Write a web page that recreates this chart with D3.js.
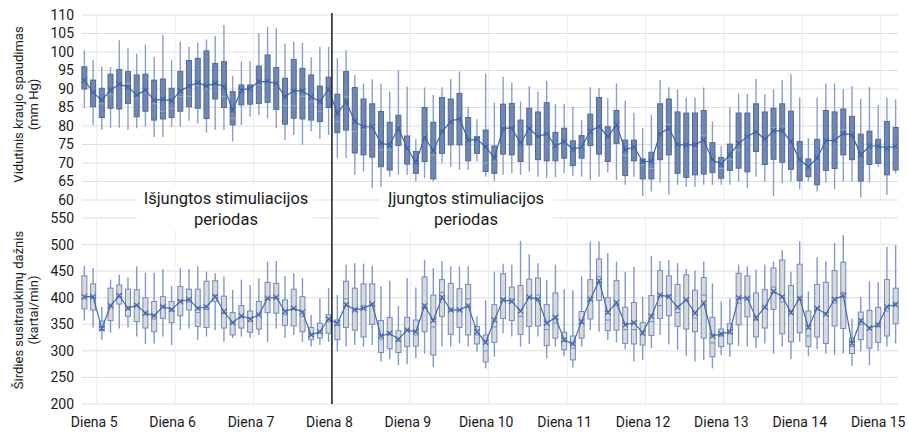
<!DOCTYPE html>
<html>
<head>
<meta charset="utf-8">
<script src="https://cdn.jsdelivr.net/npm/d3@7"></script>
<style>
  body { margin: 0; background: #fff; }
  svg text { font-family: Roboto, "Open Sans", sans-serif; fill: #1a1a1a; }
</style>
</head>
<body>
<div id="chart"></div>
<script>
// day labels on the time axis
const days = [5, 6, 7, 8, 9, 10, 11, 12, 13, 14, 15]
const stimOnDay = 8

// mean arterial pressure (mm Hg), one box per recording slot
const bpMax = [100.4, 97.8, 96, 96, 103.2, 101, 99.5, 102, 98.7, 104.6, 97.8, 102.8, 101.4, 102.5, 103.4, 104.3, 107.3, 93.5, 97.4, 97.6, 105, 106.8, 106.4, 102.3, 102.8, 102.5, 98.6, 101.4, 101.4,
  98.3, 100.5, 93.8, 91.5, 92.6, 91.5, 89.3, 95, 90.6, 76.4, 90.4, 88.4, 90.5, 92.7, 94.7, 85.2, 81.8, 94.2, 86.3, 93.3, 91.7, 86.6, 90.8, 89.3, 92.2, 85.9, 86, 85.2, 81.6, 90.5, 90.3, 87.5, 91.5,
  86.8, 83.6, 79.4, 83, 92.4, 90.5, 89.9, 87.7, 87.7, 90.4, 81.2, 74.6, 85, 88.8, 88.6, 92.7, 88.6, 89.9, 92.4, 94, 87.7, 76.8, 87.7, 91.5, 91.5, 89.9, 90.8, 87.3, 90.5, 85.7, 87.7, 87.2]
const bpQ3 = [96, 92.4, 90.2, 94, 95.3, 94.7, 93.8, 94, 92.4, 92.7, 90.2, 94.7, 97.7, 98.3, 100.3, 96.9, 97.4, 89.3, 91.1, 91.1, 96.2, 99.2, 95.8, 92.9, 98, 95.6, 93.8, 90.8, 93.2,
  88.6, 94.7, 90.4, 87.3, 86, 83.9, 81, 82.9, 77.3, 73.1, 85, 81, 87.7, 87.3, 88.8, 82.3, 77.1, 78.9, 74.6, 85.9, 86.1, 81.6, 84.8, 83.8, 86.3, 78.3, 79.4, 76, 77.4, 83.2, 87.7, 79.8, 84.2,
  76.2, 76.2, 71.1, 72.9, 86, 87.3, 83.8, 83.5, 83.5, 84.2, 75.5, 71.5, 75.1, 83.5, 83.5, 86, 83.8, 84.8, 86, 84, 75.8, 71.1, 76.4, 84.2, 83.8, 84.6, 82.6, 77.8, 78.6, 76.4, 81.2, 79.6]
const bpMedian = [92, 88.5, 86, 88.5, 91, 91.5, 87.5, 89, 86, 84, 84.8, 88, 88, 91, 90, 91, 88, 82, 89.5, 90, 91, 91.5, 91, 85.5, 85.5, 88, 86.5, 84, 89,
  81.2, 88, 78.5, 79, 80, 73.5, 73.5, 79.5, 73.5, 69.5, 77.5, 72, 78, 81.5, 82.5, 76.5, 76.5, 70, 70.5, 80, 79, 75, 79, 76.5, 78.5, 74.5, 75.5, 73.5, 74.5, 78.5, 80.5, 76.5, 80.5,
  72, 74, 69.5, 68.5, 78.5, 80.5, 74.5, 74.5, 74, 77.5, 70.5, 68.5, 71, 73.5, 76.5, 79, 76, 79.5, 80, 75.5, 70.5, 69, 70.5, 75.5, 76.5, 79, 78, 72.5, 74.5, 74.5, 74, 74.5]
const bpQ1 = [90, 85.2, 82.3, 84.8, 84.6, 86.1, 82.5, 84, 81.6, 81.9, 82.3, 84, 85.2, 84.8, 82, 87.3, 85, 80.3, 85.7, 85.9, 86.1, 86.4, 84.5, 80.5, 82.1, 81.9, 81.6, 81.2, 85,
  78.2, 78.9, 72.7, 72.2, 71.6, 69, 68.1, 74.7, 69.7, 67.2, 70.4, 65.7, 72.6, 74.9, 74.9, 70.6, 72.6, 67.7, 67.2, 72.4, 72.2, 70.4, 74.9, 70.9, 70.6, 70.6, 71.3, 69.3, 71.3, 74.7, 72.4, 70.4, 75.3,
  66.6, 70.6, 65.7, 65.7, 70.9, 72.2, 67.2, 66.1, 66.8, 67, 67.4, 65.9, 68, 68.6, 67.6, 73.1, 69.6, 71, 70.2, 68.3, 65.2, 66.3, 64.1, 68, 68.5, 72.2, 70.9, 65.1, 69.6, 69.9, 66.8, 68.1]
const bpMin = [85, 80.3, 79, 79.5, 79.5, 79, 79.4, 79.8, 77, 77, 79.8, 79.8, 81.4, 80.7, 78.2, 79, 79, 75.8, 80.3, 82.5, 83, 82, 79.4, 76.2, 77.6, 74.9, 78.6, 76.5, 77.6,
  71.3, 71.3, 66.8, 67.7, 63.2, 63.6, 66.3, 66.8, 66.8, 65, 65.9, 65, 69.9, 69, 68.1, 68.1, 70.4, 66.3, 65.1, 66.8, 67.2, 66.8, 67.7, 66.3, 65.9, 66.1, 67.2, 66.5, 66.3, 65.4, 66.3, 67.4, 65.4,
  64.1, 66.3, 61.1, 62.3, 64.7, 61.4, 64.1, 63.6, 63.6, 64.1, 64.1, 64.1, 64.1, 65, 63.2, 66.3, 65, 61.1, 64.5, 65, 62.9, 65, 62.3, 64.7, 62.9, 65, 65, 60.6, 64.7, 69, 61.4, 67.2]
const bpMean = [92.4, 89, 87, 89.7, 91.3, 90.5, 88.4, 89.7, 87, 87.2, 86.8, 89.5, 90.8, 91.7, 90.8, 91.5, 90.6, 84.3, 89.7, 90.2, 92, 92, 91.5, 87.9, 89.5, 89.5, 87.9, 86.6, 89.9,
  83.4, 86.6, 81.2, 79.8, 79.8, 75.3, 74.9, 79.4, 74, 70.1, 76.9, 73.3, 78.5, 81.2, 82.1, 76.2, 76.4, 74.4, 71.3, 79.4, 79.4, 75.3, 79.4, 77.1, 78, 74.6, 75.8, 73.7, 74.4, 78.5, 80, 77.1, 80.3,
  73.5, 74.4, 70.4, 70.4, 78, 79.4, 74.9, 74.9, 74.9, 76.2, 70.8, 69.7, 72.2, 75.3, 77.1, 78.5, 76.4, 78.7, 78.7, 75.8, 70.8, 69, 71.3, 76, 76.2, 78, 77.6, 72.2, 74.6, 74.6, 74, 74.6]

// heart rate (beats/min)
const hrMax = [460, 456, 383, 434, 443, 438, 459, 447, 447, 454, 422, 456, 454, 459, 449, 446, 440, 415, 434, 424, 437, 468, 469, 441, 446, 437, 368, 399, 418,
  405, 462, 465, 464, 460, 422, 432, 385, 437, 419, 471, 456, 469, 459, 459, 459, 365, 395, 449, 464, 462, 507, 482, 465, 434, 462, 416, 414, 440, 506, 506, 484, 468,
  449, 458, 402, 479, 469, 471, 465, 454, 451, 468, 427, 393, 399, 462, 459, 453, 462, 468, 490, 449, 506, 412, 476, 468, 503, 518, 361, 402, 431, 429, 496, 499]
const hrQ3 = [441, 426, 356, 418, 424, 416, 415, 400, 393, 402, 393, 421, 416, 416, 431, 432, 403, 372, 385, 375, 393, 429, 427, 396, 416, 402, 344, 352, 368,
  358, 431, 418, 426, 426, 357, 363, 338, 363, 358, 439, 405, 434, 427, 417, 425, 346, 330, 387, 445, 420, 423, 435, 437, 387, 409, 335, 328, 374, 434, 473, 400, 432,
  382, 391, 353, 404, 451, 441, 425, 443, 414, 438, 363, 341, 351, 446, 441, 409, 415, 456, 471, 423, 463, 375, 425, 429, 451, 467, 324, 373, 376, 382, 434, 418]
const hrMedian = [398, 400, 340, 385, 400, 378, 385, 368, 360, 384, 375, 395, 392, 372, 378, 405, 370, 352, 362, 355, 368, 398, 398, 368, 378, 365, 330, 334, 355,
  348, 398, 380, 385, 385, 322, 330, 318, 340, 330, 380, 345, 410, 375, 376, 398, 330, 300, 345, 398, 398, 365, 400, 405, 340, 352, 318, 305, 352, 395, 440, 358, 385,
  340, 340, 330, 355, 385, 405, 372, 395, 362, 405, 315, 328, 332, 390, 400, 358, 380, 420, 392, 370, 400, 328, 378, 372, 390, 410, 308, 350, 340, 345, 375, 390]
const hrQ1 = [379, 377, 338, 357, 388, 365, 355, 343, 336, 361, 353, 366, 377, 346, 344, 393, 343, 330, 343, 335, 341, 372, 371, 348, 347, 336, 321, 324, 333,
  321, 344, 339, 326, 350, 297, 304, 297, 308, 309, 336, 292, 365, 331, 344, 330, 313, 279, 316, 361, 357, 331, 346, 347, 310, 324, 302, 283, 324, 360, 395, 338, 339,
  314, 313, 311, 329, 361, 366, 346, 341, 336, 324, 289, 308, 313, 349, 364, 326, 343, 378, 332, 317, 334, 308, 326, 314, 347, 342, 295, 321, 305, 316, 328, 351]
const hrMin = [357, 344, 321, 334, 342, 344, 327, 313, 314, 327, 311, 339, 342, 321, 327, 339, 317, 324, 327, 324, 330, 317, 342, 324, 330, 317, 308, 311, 317,
  299, 308, 311, 308, 311, 280, 284, 273, 275, 286, 295, 270, 308, 308, 314, 308, 299, 267, 289, 333, 327, 308, 313, 327, 286, 308, 290, 268, 308, 339, 336, 321, 316,
  303, 280, 283, 305, 330, 312, 302, 291, 280, 283, 267, 292, 289, 309, 308, 305, 314, 295, 308, 284, 317, 290, 303, 295, 292, 295, 272, 299, 273, 300, 308, 314]
const hrMean = [402, 402, 342, 385, 404, 380, 386, 371, 366, 383, 378, 393, 397, 380, 383, 402, 374, 353, 366, 360, 368, 399, 401, 374, 380, 373, 330, 336, 360,
  352, 387, 377, 380, 388, 328, 333, 322, 339, 336, 385, 357, 401, 377, 377, 385, 336, 316, 358, 396, 393, 375, 401, 397, 352, 363, 321, 313, 355, 397, 432, 372, 391,
  349, 353, 334, 365, 405, 402, 382, 396, 371, 390, 328, 332, 336, 400, 399, 362, 382, 412, 402, 372, 399, 344, 380, 369, 397, 404, 314, 357, 343, 349, 383, 387]

const width = 908
const height = 433
const plotLeft = 82
const plotRight = 898

const svg = d3.select('#chart').append('svg')
  .attr('width', width)
  .attr('height', height)

// one band per box, shared by both panels
const x = d3.scaleBand()
  .domain(d3.range(bpMean.length))
  .range([80, 900])

// day grid / labels
const xDay = d3.scaleLinear()
  .domain([5, 15])
  .range([96.7, 880.7])

const yBp = d3.scaleLinear().domain([60, 110]).range([200, 15])
const yHr = d3.scaleLinear().domain([200, 550]).range([404, 218])

const drawGrid = (y, ticks) => {
  svg.append('g')
    .selectAll('line')
    .data(ticks)
    .join('line')
    .attr('x1', plotLeft)
    .attr('x2', plotRight)
    .attr('y1', d => y(d))
    .attr('y2', d => y(d))
    .style('stroke', '#dedede')
    .style('stroke-width', 1)

  svg.append('g')
    .selectAll('line')
    .data(days)
    .join('line')
    .attr('x1', d => xDay(d))
    .attr('x2', d => xDay(d))
    .attr('y1', y.range()[1])
    .attr('y2', y.range()[0])
    .style('stroke', '#ececec')
    .style('stroke-width', 1)

  const axis = svg.append('g')
    .attr('transform', `translate(${plotLeft - 4}, 0)`)
    .call(d3.axisLeft(y).tickValues(ticks).tickSize(0).tickPadding(4))
  axis.select('.domain').remove()
  axis.selectAll('text')
    .style('font-size', '14px')
    .style('font-family', 'Roboto, sans-serif')
    .attr('fill', '#1a1a1a')
}

drawGrid(yBp, d3.range(60, 111, 5))
drawGrid(yHr, d3.range(200, 551, 50))

// period captions with white boxes
const captions = [
  { cx: 226, x0: 137, x1: 313, lines: ['Išjungtos stimuliacijos', 'periodas'] },
  { cx: 466, x0: 380, x1: 553, lines: ['Įjungtos stimuliacijos', 'periodas'] }
]
captions.forEach(c => {
  svg.append('rect')
    .attr('x', c.x0)
    .attr('y', 186)
    .attr('width', c.x1 - c.x0)
    .attr('height', 44)
    .attr('fill', '#fff')
  c.lines.forEach((t, i) => {
    svg.append('text')
      .attr('x', c.cx)
      .attr('y', 204 + i * 21)
      .attr('text-anchor', 'middle')
      .style('font-size', '16.5px')
      .text(t)
  })
})

const drawBoxes = (y, data, style) => {
  const g = svg.append('g')
  const cx = i => x(i) + x.bandwidth() / 2
  const bw = 5
  const idx = d3.range(data.mean.length)

  g.selectAll('.whisker')
    .data(idx)
    .join('line')
    .attr('x1', cx).attr('x2', cx)
    .attr('y1', i => y(data.max[i]))
    .attr('y2', i => y(data.min[i]))
    .style('stroke', style.whisker)
    .style('stroke-width', 1.4)

  g.selectAll('.box')
    .data(idx)
    .join('rect')
    .attr('x', i => cx(i) - bw / 2)
    .attr('y', i => y(data.q3[i]))
    .attr('width', bw)
    .attr('height', i => y(data.q1[i]) - y(data.q3[i]))
    .attr('fill', style.fill)
    .attr('stroke', style.stroke)
    .attr('stroke-width', 1)

  g.selectAll('.median')
    .data(idx)
    .join('line')
    .attr('x1', i => cx(i) - bw / 2)
    .attr('x2', i => cx(i) + bw / 2)
    .attr('y1', i => y(data.median[i]))
    .attr('y2', i => y(data.median[i]))
    .style('stroke', style.median)
    .style('stroke-width', 1)

  const line = d3.line()
    .x(i => cx(i))
    .y(i => y(data.mean[i]))
  g.append('path')
    .datum(idx)
    .attr('d', line)
    .attr('fill', 'none')
    .style('stroke', style.mean)
    .style('stroke-width', 1.2)

  // x markers for means
  const s = 2.6
  g.selectAll('.meanmark')
    .data(idx)
    .join('path')
    .attr('d', i => {
      const px = cx(i), py = y(data.mean[i])
      return `M${px - s},${py - s}L${px + s},${py + s}M${px - s},${py + s}L${px + s},${py - s}`
    })
    .style('stroke', style.mean)
    .style('stroke-width', 1.2)
}

drawBoxes(yBp, { max: bpMax, q3: bpQ3, median: bpMedian, q1: bpQ1, min: bpMin, mean: bpMean }, {
  fill: '#6f87b2', stroke: '#52699b', whisker: '#8aa0c9', median: '#93a8cf', mean: '#3f62a8'
})

drawBoxes(yHr, { max: hrMax, q3: hrQ3, median: hrMedian, q1: hrQ1, min: hrMin, mean: hrMean }, {
  fill: '#d9d9d9', stroke: '#6e8bc2', whisker: '#7f99cb', median: '#6e8bc2', mean: '#4467ad'
})

// stimulation switch-on divider
svg.append('line')
  .attr('x1', xDay(stimOnDay))
  .attr('x2', xDay(stimOnDay))
  .attr('y1', 13)
  .attr('y2', 404)
  .style('stroke', '#262626')
  .style('stroke-width', 1.6)

// day labels
const xAxis = svg.append('g')
  .attr('transform', 'translate(-3, 404)')
  .call(d3.axisBottom(xDay).tickValues(days).tickSize(0).tickPadding(13)
    .tickFormat(d => `Diena ${d}`))
xAxis.select('.domain').remove()
xAxis.selectAll('text')
  .style('font-size', '14px')
  .style('font-family', 'Roboto, sans-serif')
  .attr('fill', '#1a1a1a')

// y titles
const yTitle = (lines, cy) => {
  lines.forEach((t, i) => {
    svg.append('text')
      .attr('transform', `translate(${18 + i * 15}, ${cy}) rotate(-90)`)
      .attr('text-anchor', 'middle')
      .attr('dominant-baseline', 'central')
      .style('font-size', '13px')
      .text(t)
  })
}
yTitle(['Vidutinis kraujo spaudimas', '(mm Hg)'], 104.5)
yTitle(['Širdies susitraukimų dažnis', '(kartai/min)'], 310)
</script>
</body>
</html>
